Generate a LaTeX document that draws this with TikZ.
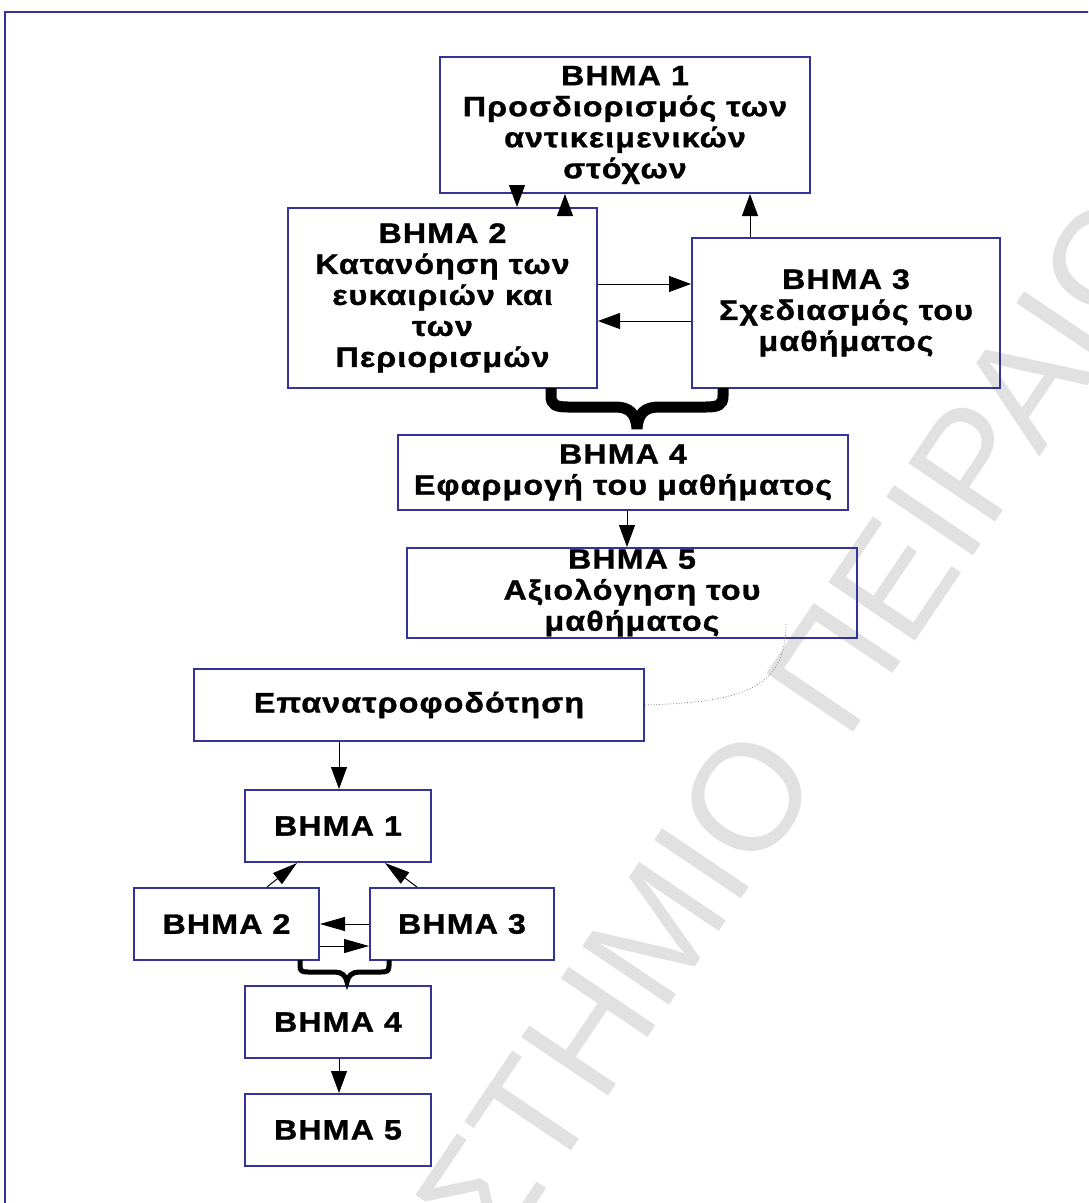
\documentclass[tikz,border=0pt]{standalone}
\usepackage{fontspec}
\setmainfont{Liberation Sans}
\newfontfamily\stepfont{Liberation Sans}[FakeStretch=1.15, FakeBold=1.2, LetterSpace=4]
\usetikzlibrary{arrows.meta}
\definecolor{frameblue}{HTML}{333399}
\definecolor{wmgray}{HTML}{E1E1E1}
\tikzset{
  stepbox/.style={draw=frameblue, line width=2pt, inner sep=0pt, align=center,
    font=\stepfont\bfseries\fontsize{28}{31}\selectfont},
  arr/.style={-{Triangle[length=22pt,width=16pt]}, line width=1pt, black},
  smallarr/.style={-{Triangle[length=25pt,width=14pt]}, line width=1pt, black},
  bigbrace/.style={line width=11pt, black, line join=miter},
  smallbrace/.style={line width=5pt, black, line join=miter},
  feedline/.style={dotted, line width=0.8pt, gray}
}
\begin{document}
\begin{tikzpicture}[x=1pt, y=-1pt]
\useasboundingbox (0,0) rectangle (1088,1203);
\clip (0,0) rectangle (1088,1203);
\fill[white] (0,0) rectangle (1088,1203);

% watermark lettering across the page
\node[rotate=56, text=wmgray, inner sep=0pt, font=\fontsize{152}{152}\selectfont] (wm)
  at (747,797) {\llap{ΠΑΝΕΠΙΣΤΗΜΙ}Ο\rlap{\ ΠΕΙΡΑΙΩΣ}};

% outer frame
\draw[frameblue, line width=2pt] (4.5,11.5) rectangle (1110,1215);

% upper chart
\node[stepbox, minimum width=370pt, minimum height=136pt] (b1) at (625,125)
  {ΒΗΜΑ 1\\Προσδιορισμός των\\αντικειμενικών\\στόχων};
\node[stepbox, minimum width=309pt, minimum height=180pt] (b2) at (442.5,298)
  {ΒΗΜΑ 2\\Κατανόηση των\\ευκαιριών και\\των\\Περιορισμών};
\node[stepbox, minimum width=308pt, minimum height=150pt] (b3) at (846,313)
  {ΒΗΜΑ 3\\Σχεδιασμός του\\μαθήματος};
\node[stepbox, minimum width=450pt, minimum height=75pt] (b4) at (623,472.5)
  {ΒΗΜΑ 4\\Εφαρμογή του μαθήματος};
\node[stepbox, minimum width=450pt, minimum height=90pt] (b5) at (632,593)
  {ΒΗΜΑ 5\\Αξιολόγηση του\\μαθήματος};
\node[stepbox, minimum width=450pt, minimum height=72pt] (feed) at (419,705)
  {Επανατροφοδότηση};

% lower chart
\node[stepbox, minimum width=186pt, minimum height=72pt] (s1) at (338,826) {ΒΗΜΑ 1};
\node[stepbox, minimum width=185pt, minimum height=72pt] (s2) at (226.5,924) {ΒΗΜΑ 2};
\node[stepbox, minimum width=184pt, minimum height=72pt] (s3) at (462,924) {ΒΗΜΑ 3};
\node[stepbox, minimum width=186pt, minimum height=72pt] (s4) at (338,1022) {ΒΗΜΑ 4};
\node[stepbox, minimum width=186pt, minimum height=72pt] (s5) at (338,1130) {ΒΗΜΑ 5};

% connectors, upper chart
\draw[arr] ([xshift=-108pt]b1.south) -- ([xshift=74.5pt]b2.north);
\draw[arr] ([xshift=122.5pt]b2.north) -- ([xshift=-60pt]b1.south);
\draw[arr] ([xshift=-96pt]b3.north) -- ([xshift=125pt]b1.south);
\draw[arr] ([yshift=14pt]b2.east) -- ([yshift=29pt]b3.west);
\draw[arr] ([yshift=-8pt]b3.west) -- ([yshift=-23pt]b2.east);
\draw[arr] ([xshift=4pt]b4.south) -- ([xshift=-5pt]b5.north);
\coordinate (fbk) at (786,624);
\draw[feedline] (fbk) .. controls (786,690) and (740,702) .. (feed.east);

% brace joining steps 2 and 3
\draw[bigbrace] (551,388) -- (551,396) .. controls (551,405) and (556,407) .. (568,407)
  -- (615,407) .. controls (629,407) and (636,413) .. (637,429)
  .. controls (638,413) and (645,407) .. (659,407) -- (706,407)
  .. controls (718,407) and (723,405) .. (723,396) -- (723,388);

% connectors, lower chart
\draw[arr] ([xshift=-80pt]feed.south) -- ([xshift=1pt]s1.north);
\draw[smallarr] ([xshift=40.5pt]s2.north) -- ([xshift=-41pt]s1.south);
\draw[smallarr] ([xshift=-45pt]s3.north) -- ([xshift=47pt]s1.south);
\draw[smallarr] (s3.west) -- (s2.east);
\draw[smallarr] ([yshift=-22pt]s2.east) -- ([yshift=-22pt]s3.west);
\draw[arr] ([xshift=1pt]s4.south) -- ([xshift=1pt]s5.north);

% brace joining the small steps 2 and 3
\draw[smallbrace] (300,960) -- (300,966) .. controls (300,971) and (302,972) .. (308,972)
  -- (335,972) .. controls (342,972) and (346,976) .. (347,982)
  .. controls (348,976) and (352,972) .. (359,972) -- (381,972)
  .. controls (387,972) and (389,971) .. (389,966) -- (389,960);
\end{tikzpicture}
\end{document}
